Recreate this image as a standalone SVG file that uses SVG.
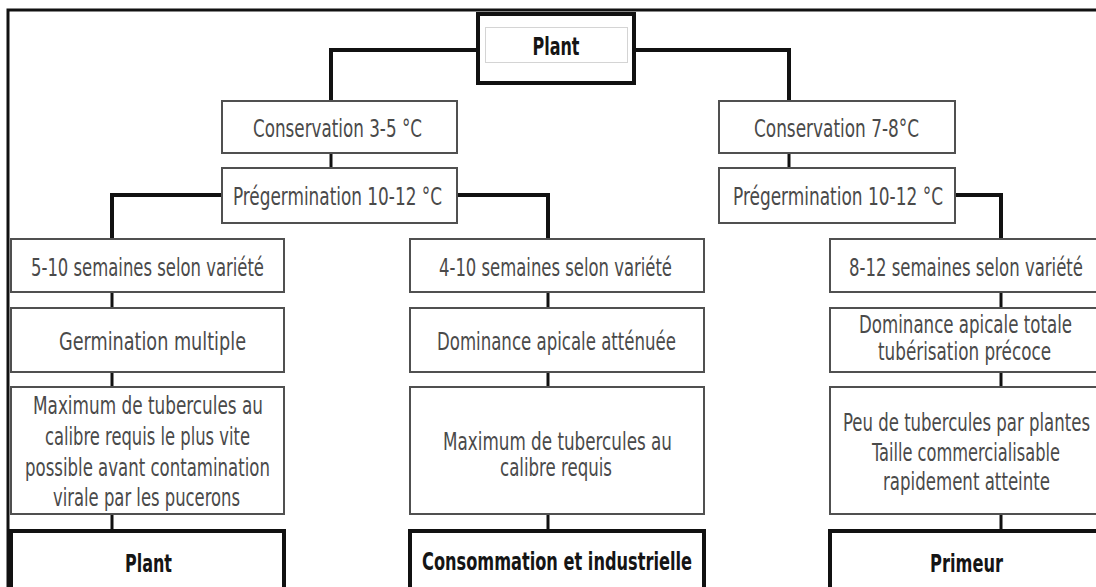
<svg xmlns="http://www.w3.org/2000/svg" width="1096" height="587" viewBox="0 0 1096 587">
<style>
.bg{fill:#fff}
.box{fill:#fff;stroke:#505050;stroke-width:2}
.tbox{fill:#fff;stroke:#111;stroke-width:4}
.inner{fill:none;stroke:#d4d4d4;stroke-width:1}
.c{fill:none;stroke:#111;stroke-width:4;stroke-linejoin:miter}
.v{fill:none;stroke:#111;stroke-width:3}
.frame{fill:none;stroke:#111;stroke-width:3}
text{font-family:"Liberation Sans Narrow","DejaVu Sans Condensed","Liberation Sans",sans-serif;font-size:25px;text-anchor:middle}
.t{fill:#4a4a4a}
.b{fill:#151515;font-weight:bold}
</style>
<rect class="bg" x="0" y="0" width="1096" height="587"/>
<path class="frame" d="M8 600 V10 H1100"/>
<g id="connectors">
<path class="c" d="M478 50 H331 V101"/>
<path class="c" d="M634 50 H789 V101"/>
<path class="v" d="M331 153 V168"/>
<path class="v" d="M789 153 V168"/>
<path class="c" d="M222 195 H112 V239"/>
<path class="c" d="M457 195 H548 V239"/>
<path class="c" d="M955 195 H1001 V239"/>
<path class="v" d="M112 292 V308 M112 372 V387 M112 514 V531"/>
<path class="v" d="M548 292 V308 M548 372 V387 M548 514 V531"/>
<path class="v" d="M1001 292 V308 M1001 372 V387 M1001 514 V531"/>
</g>
<g id="plant-top">
<rect class="tbox" x="478" y="14" width="156" height="69"/>
<rect class="inner" x="485.5" y="27.5" width="142" height="35"/>
<text class="b" x="556" y="55" textLength="47" lengthAdjust="spacingAndGlyphs">Plant</text>
</g>
<g id="cons-left">
<rect class="box" x="222" y="101" width="235" height="52"/>
<text class="t" x="337.5" y="137" textLength="169" lengthAdjust="spacingAndGlyphs">Conservation 3-5 °C</text>
</g>
<g id="preg-left">
<rect class="box" x="222" y="168" width="235" height="55"/>
<text class="t" x="337.5" y="205" textLength="209" lengthAdjust="spacingAndGlyphs">Prégermination 10-12 °C</text>
</g>
<g id="cons-right">
<rect class="box" x="719" y="101" width="236" height="52"/>
<text class="t" x="836.5" y="137" textLength="165" lengthAdjust="spacingAndGlyphs">Conservation 7-8°C</text>
</g>
<g id="preg-right">
<rect class="box" x="719" y="168" width="236" height="55"/>
<text class="t" x="838" y="205" textLength="210" lengthAdjust="spacingAndGlyphs">Prégermination 10-12 °C</text>
</g>
<g id="left-weeks">
<rect class="box" x="11" y="239" width="273" height="53"/>
<text class="t" x="147.5" y="276" textLength="233" lengthAdjust="spacingAndGlyphs">5-10 semaines selon variété</text>
</g>
<g id="left-germ">
<rect class="box" x="11" y="308" width="273" height="64"/>
<text class="t" x="152.5" y="350" textLength="187" lengthAdjust="spacingAndGlyphs">Germination multiple</text>
</g>
<g id="left-max">
<rect class="box" x="11" y="387" width="273" height="127"/>
<text class="t" x="148" y="414" textLength="230" lengthAdjust="spacingAndGlyphs">Maximum de tubercules au</text>
<text class="t" x="147.5" y="445" textLength="205" lengthAdjust="spacingAndGlyphs">calibre requis le plus vite</text>
<text class="t" x="147.5" y="476" textLength="245" lengthAdjust="spacingAndGlyphs">possible avant contamination</text>
<text class="t" x="146.5" y="506" textLength="187" lengthAdjust="spacingAndGlyphs">virale par les pucerons</text>
</g>
<g id="left-final">
<rect class="tbox" x="11" y="531" width="273" height="70"/>
<text class="b" x="148.5" y="572" textLength="47" lengthAdjust="spacingAndGlyphs">Plant</text>
</g>
<g id="mid-weeks">
<rect class="box" x="410" y="239" width="294" height="53"/>
<text class="t" x="555.5" y="276" textLength="233" lengthAdjust="spacingAndGlyphs">4-10 semaines selon variété</text>
</g>
<g id="mid-dom">
<rect class="box" x="410" y="308" width="294" height="64"/>
<text class="t" x="556.5" y="350" textLength="239" lengthAdjust="spacingAndGlyphs">Dominance apicale atténuée</text>
</g>
<g id="mid-max">
<rect class="box" x="410" y="387" width="294" height="127"/>
<text class="t" x="557.5" y="450" textLength="229" lengthAdjust="spacingAndGlyphs">Maximum de tubercules au</text>
<text class="t" x="556" y="476" textLength="112" lengthAdjust="spacingAndGlyphs">calibre requis</text>
</g>
<g id="mid-final">
<rect class="tbox" x="410" y="531" width="294" height="70"/>
<text class="b" x="557" y="570" textLength="270" lengthAdjust="spacingAndGlyphs">Consommation et industrielle</text>
</g>
<g id="right-weeks">
<rect class="box" x="830" y="239" width="272" height="53"/>
<text class="t" x="966" y="276" textLength="234" lengthAdjust="spacingAndGlyphs">8-12 semaines selon variété</text>
</g>
<g id="right-dom">
<rect class="box" x="830" y="308" width="272" height="64"/>
<text class="t" x="965.5" y="333" textLength="213" lengthAdjust="spacingAndGlyphs">Dominance apicale totale</text>
<text class="t" x="964.5" y="360" textLength="173" lengthAdjust="spacingAndGlyphs">tubérisation précoce</text>
</g>
<g id="right-few">
<rect class="box" x="830" y="387" width="272" height="127"/>
<text class="t" x="966.5" y="431" textLength="247" lengthAdjust="spacingAndGlyphs">Peu de tubercules par plantes</text>
<text class="t" x="966" y="461" textLength="188" lengthAdjust="spacingAndGlyphs">Taille commercialisable</text>
<text class="t" x="966.5" y="490" textLength="167" lengthAdjust="spacingAndGlyphs">rapidement atteinte</text>
</g>
<g id="right-final">
<rect class="tbox" x="830" y="531" width="272" height="70"/>
<text class="b" x="966.5" y="572" textLength="73" lengthAdjust="spacingAndGlyphs">Primeur</text>
</g>
</svg>
